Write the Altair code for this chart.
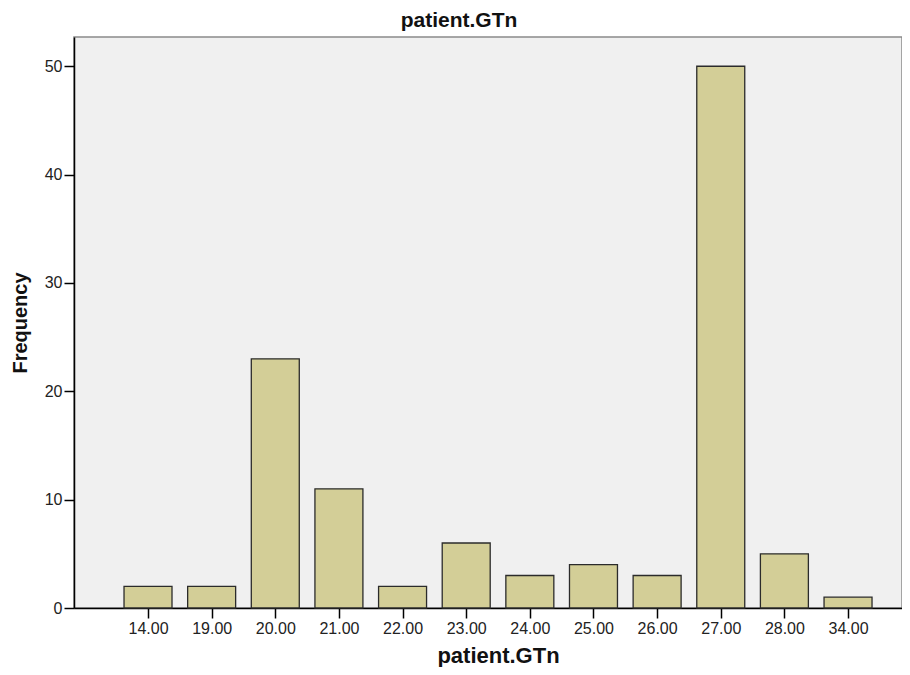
import altair as alt
import pandas as pd

categories = ["14.00", "19.00", "20.00", "21.00", "22.00", "23.00",
              "24.00", "25.00", "26.00", "27.00", "28.00", "34.00"]
frequency = [2, 2, 23, 11, 2, 6, 3, 4, 3, 50, 5, 1]

half = 0.377
df = pd.DataFrame({
    "idx": list(range(len(categories))),
    "label": categories,
    "freq": frequency,
})
df["x0"] = df["idx"] - half
df["x1"] = df["idx"] + half

label_js = "[" + ",".join("'%s'" % c for c in categories) + "]"

font = "Liberation Sans"

bars = alt.Chart(df).mark_bar(
    fill="#D3CE97", stroke="#2b2b2b", strokeWidth=1.3
).encode(
    x=alt.X("x0:Q",
            scale=alt.Scale(domain=[-1.163, 11.848], nice=False, zero=False),
            axis=alt.Axis(values=list(range(len(categories))),
                          labelExpr=label_js + "[datum.value]",
                          title="patient.GTn", grid=False, offset=0,
                          tickSize=10, tickColor="#000", domainColor="#000",
                          domainWidth=1.5, tickWidth=1.5,
                          labelFont=font, labelFontSize=16, labelColor="#222",
                          labelPadding=2,
                          titleFont=font, titleFontSize=22, titleFontWeight="bold",
                          titleColor="#111", titlePadding=9, titleX=424)),
    x2="x1:Q",
    y=alt.Y("freq:Q",
            scale=alt.Scale(domain=[0, 52.7], nice=False),
            axis=alt.Axis(values=[0, 10, 20, 30, 40, 50], title="Frequency",
                          grid=False, tickSize=10, tickColor="#000", offset=0,
                          domainColor="#000", domainWidth=1.5, tickWidth=1.5,
                          labelFont=font, labelFontSize=16, labelColor="#222",
                          labelPadding=2,
                          titleFont=font, titleFontSize=20, titleFontWeight="bold",
                          titleColor="#111", titlePadding=14)),
    y2=alt.datum(0),
    tooltip=["label", "freq"],
)

chart = bars.properties(
    width=828,
    height=571,
    background="white",
    title=alt.TitleParams("patient.GTn", font=font, fontSize=21,
                          fontWeight="bold", color="#111", offset=6, dx=-29),
    autosize=alt.AutoSizeParams(type="none"),
    padding={"left": 66, "top": 29, "right": 0, "bottom": 59},
).configure_view(
    fill="#F0F0F0", stroke="#8a8a8a", strokeWidth=1.5
)

chart.save("out.html", embed_options={"renderer": "svg", "actions": False})
